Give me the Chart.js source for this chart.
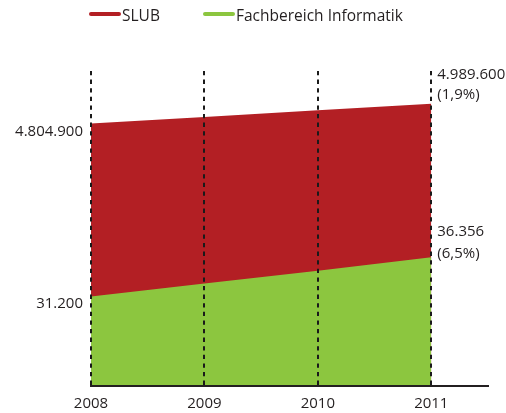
<!DOCTYPE html>
<html>
<head>
<meta charset="utf-8">
<script src="https://cdn.jsdelivr.net/npm/chart.js@4"></script>
<style>
html,body{margin:0;padding:0;background:#fff;}
#wrap{width:506px;height:413px;}
</style>
</head>
<body>
<div id="wrap"><canvas id="c" width="506" height="413"></canvas></div>
<script>
const years = [2008, 2009, 2010, 2011];
const slubValues = [4804900, 4866500, 4928000, 4989600];
const infValues = [31200, 32900, 34600, 36356];
const seriesNames = ['SLUB', 'Fachbereich Informatik'];
const growthNotes = ['(1,9%)', '(6,5%)'];

const RED = '#B31F24';
const GREEN = '#8CC63F';
const TXT = '#231F20';
const FONT = '"Open Sans", "DejaVu Sans", sans-serif';

function fmt(n){ return String(n).replace(/\B(?=(\d{3})+(?!\d))/g, '.'); }

const annot = {
  id: 'annot',
  afterDraw(chart){
    const ctx = chart.ctx;
    const x = chart.scales.x, yR = chart.scales.yR, yG = chart.scales.yG;
    ctx.save();
    ctx.fillStyle = TXT;
    ctx.font = '15px ' + FONT;
    ctx.textBaseline = 'middle';
    const last = years.length - 1;
    // left labels
    ctx.textAlign = 'right';
    const xl = x.getPixelForValue(years[0]) - 8;
    ctx.fillText(fmt(slubValues[0]), xl, yR.getPixelForValue(slubValues[0]) + 8);
    ctx.fillText(fmt(infValues[0]), xl, yG.getPixelForValue(infValues[0]) + 7);
    // right labels
    ctx.textAlign = 'left';
    const xr = x.getPixelForValue(years[last]) + 6;
    const pr = yR.getPixelForValue(slubValues[last]);
    ctx.fillText(fmt(slubValues[last]), xr, pr - 29);
    ctx.fillText(growthNotes[0], xr, pr - 9);
    const pg = yG.getPixelForValue(infValues[last]);
    ctx.fillText(fmt(infValues[last]), xr, pg - 26);
    ctx.fillText(growthNotes[1], xr, pg - 4);
    // legend
    const items = [[seriesNames[0], RED, 89], [seriesNames[1], GREEN, 203]];
    ctx.font = '15.5px ' + FONT;
    ctx.lineCap = 'round';
    ctx.lineWidth = 4;
    items.forEach(([t, c, lx]) => {
      ctx.strokeStyle = c;
      ctx.beginPath(); ctx.moveTo(lx + 2, 14); ctx.lineTo(lx + 30, 14); ctx.stroke();
      ctx.fillText(t, lx + 33, 17);
    });
    ctx.restore();
  }
};

new Chart(document.getElementById('c'), {
  type: 'line',
  data: {
    datasets: [
      {
        label: seriesNames[1],
        data: years.map((y, i) => ({x: y, y: infValues[i]})),
        yAxisID: 'yG',
        backgroundColor: GREEN,
        borderWidth: 0,
        pointRadius: 0,
        fill: 'start',
        tension: 0
      },
      {
        label: seriesNames[0],
        data: years.map((y, i) => ({x: y, y: slubValues[i]})),
        yAxisID: 'yR',
        backgroundColor: RED,
        borderWidth: 0,
        pointRadius: 0,
        fill: 'start',
        tension: 0
      }
    ]
  },
  options: {
    responsive: false,
    animation: false,
    events: [],
    layout: {padding: {left: 91, right: 18, top: 71, bottom: 0}},
    plugins: {legend: {display: false}, tooltip: {enabled: false}},
    scales: {
      x: {
        type: 'linear',
        min: 2008, max: 2011.5,
        afterBuildTicks(s){ s.ticks = years.map(v => ({value: v})); },
        afterFit(s){ s.height = 27; },
        ticks: {
          color: TXT,
          font: {family: FONT, size: 15},
          padding: 9,
          callback: v => String(v),
          maxRotation: 0, autoSkip: false
        },
        grid: {
          color: '#1a1a1a',
          lineWidth: 2,
          drawTicks: false,
          z: 1
        },
        border: {display: true, color: '#231F20', width: 2, dash: [4.3, 4.3], z: 2}
      },
      yR: {display: false, min: 2376000, max: 5291600},
      yG: {display: false, min: 19430, max: 60850}
    }
  },
  plugins: [annot]
});
</script>
</body>
</html>
